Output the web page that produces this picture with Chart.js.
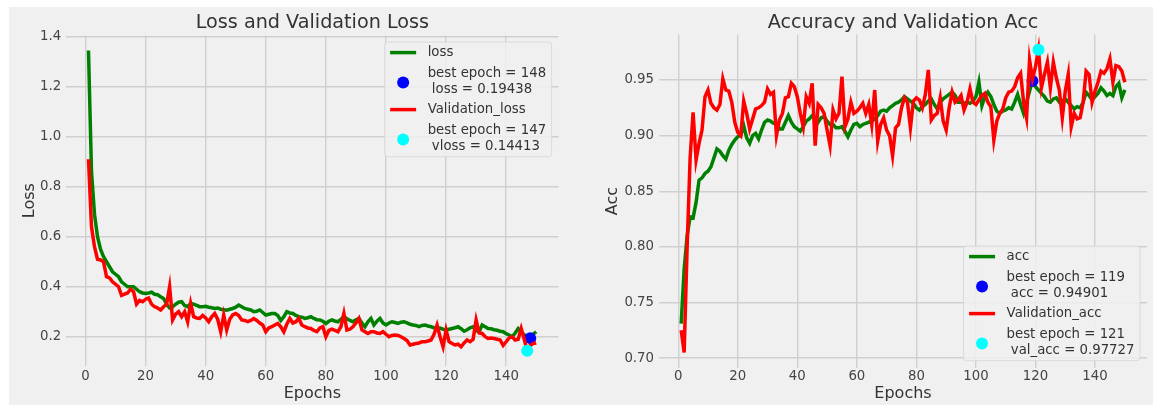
<!DOCTYPE html>
<html>
<head>
<meta charset="utf-8">
<title>Loss / Accuracy</title>
<script src="https://cdn.jsdelivr.net/npm/chart.js@4/dist/chart.umd.min.js"></script>
<style>
  html, body { margin: 0; padding: 0; background: #fff; }
  body { width: 1153px; height: 407px; position: relative; overflow: hidden; }
  #fig { position: absolute; left: 9px; top: 7px; right: 0; bottom: 2px; background: #f0f0f0; }
  canvas { position: absolute; top: 0; }
  #cLoss { left: 0; }
  #cAcc { left: 590px; }
</style>
</head>
<body>
<div id="fig"></div>
<canvas id="cLoss" width="590" height="407"></canvas>
<canvas id="cAcc" width="563" height="407"></canvas>
<script>
// training history, one value per epoch (1..150)
const loss = [
  1.345, 0.86, 0.69, 0.60, 0.55, 0.52, 0.50, 0.48, 0.46, 0.45,
  0.44, 0.42, 0.41, 0.40, 0.40, 0.40, 0.39, 0.38, 0.375, 0.373,
  0.375, 0.378, 0.37, 0.368, 0.36, 0.353, 0.33, 0.315, 0.32, 0.33,
  0.338, 0.34, 0.325, 0.32, 0.333, 0.33, 0.325, 0.32, 0.32, 0.322,
  0.318, 0.316, 0.313, 0.315, 0.31, 0.308, 0.306, 0.31, 0.313, 0.318,
  0.327, 0.32, 0.313, 0.31, 0.307, 0.30, 0.302, 0.307, 0.297, 0.287,
  0.29, 0.293, 0.293, 0.285, 0.265, 0.28, 0.30, 0.295, 0.293, 0.285,
  0.28, 0.278, 0.273, 0.276, 0.28, 0.273, 0.268, 0.267, 0.262, 0.253,
  0.262, 0.267, 0.263, 0.26, 0.27, 0.28, 0.272, 0.265, 0.26, 0.268,
  0.273, 0.255, 0.24, 0.26, 0.273, 0.247, 0.262, 0.273, 0.255, 0.247,
  0.255, 0.26, 0.257, 0.253, 0.258, 0.26, 0.255, 0.25, 0.247, 0.245,
  0.24, 0.245, 0.247, 0.243, 0.24, 0.236, 0.233, 0.235, 0.23, 0.227,
  0.23, 0.233, 0.236, 0.24, 0.232, 0.222, 0.228, 0.236, 0.24, 0.225,
  0.22, 0.247, 0.24, 0.233, 0.232, 0.228, 0.226, 0.222, 0.22, 0.212,
  0.207, 0.20, 0.215, 0.233, 0.22, 0.207, 0.202, 0.19438, 0.21, 0.22,
];
const valLoss = [
  0.91, 0.64, 0.56, 0.51, 0.507, 0.50, 0.44, 0.435, 0.42, 0.41,
  0.40, 0.365, 0.37, 0.375, 0.39, 0.38, 0.33, 0.345, 0.34, 0.35,
  0.355, 0.33, 0.32, 0.315, 0.307, 0.32, 0.33, 0.40, 0.267, 0.29,
  0.30, 0.28, 0.30, 0.26, 0.333, 0.28, 0.275, 0.273, 0.285, 0.275,
  0.26, 0.28, 0.293, 0.27, 0.22, 0.287, 0.227, 0.27, 0.287, 0.293,
  0.285, 0.267, 0.265, 0.26, 0.265, 0.273, 0.265, 0.255, 0.247, 0.22,
  0.235, 0.24, 0.247, 0.253, 0.24, 0.22, 0.25, 0.273, 0.255, 0.26,
  0.273, 0.247, 0.24, 0.235, 0.233, 0.225, 0.22, 0.235, 0.24, 0.20,
  0.225, 0.23, 0.225, 0.22, 0.24, 0.293, 0.227, 0.23, 0.24, 0.255,
  0.273, 0.227, 0.22, 0.213, 0.22, 0.22, 0.215, 0.213, 0.22, 0.21,
  0.20, 0.205, 0.207, 0.205, 0.20, 0.193, 0.185, 0.167, 0.17, 0.173,
  0.175, 0.18, 0.18, 0.183, 0.187, 0.21, 0.247, 0.20, 0.16, 0.227,
  0.18, 0.173, 0.167, 0.17, 0.16, 0.175, 0.187, 0.18, 0.19, 0.267,
  0.215, 0.213, 0.20, 0.193, 0.195, 0.193, 0.19, 0.187, 0.165, 0.18,
  0.195, 0.20, 0.187, 0.19, 0.233, 0.19, 0.14413, 0.165, 0.173, 0.175,
];
const acc = [
  0.731, 0.78, 0.81, 0.827, 0.826, 0.84, 0.86, 0.862, 0.866, 0.868,
  0.872, 0.88, 0.888, 0.886, 0.882, 0.879, 0.887, 0.892, 0.896, 0.899,
  0.90, 0.909, 0.898, 0.893, 0.90, 0.902, 0.897, 0.905, 0.912, 0.914,
  0.913, 0.911, 0.911, 0.906, 0.906, 0.912, 0.918, 0.912, 0.908, 0.906,
  0.904, 0.908, 0.913, 0.915, 0.918, 0.915, 0.912, 0.916, 0.917, 0.913,
  0.91, 0.91, 0.907, 0.907, 0.908, 0.904, 0.899, 0.905, 0.91, 0.911,
  0.908, 0.91, 0.911, 0.912, 0.913, 0.915, 0.918, 0.922, 0.923, 0.922,
  0.925, 0.927, 0.929, 0.930, 0.932, 0.935, 0.933, 0.931, 0.929, 0.925,
  0.923, 0.926, 0.928, 0.931, 0.933, 0.928, 0.924, 0.93, 0.933, 0.935,
  0.937, 0.939, 0.936, 0.930, 0.93, 0.929, 0.93, 0.929, 0.931, 0.935,
  0.948, 0.927, 0.935, 0.939, 0.935, 0.928, 0.922, 0.92, 0.922, 0.923,
  0.925, 0.924, 0.93, 0.937, 0.928, 0.92, 0.93, 0.94, 0.94901, 0.944,
  0.941, 0.938, 0.935, 0.931, 0.93, 0.933, 0.934, 0.93, 0.931, 0.933,
  0.93, 0.927, 0.924, 0.926, 0.925, 0.93, 0.939, 0.936, 0.932, 0.935,
  0.938, 0.943, 0.94, 0.936, 0.938, 0.936, 0.944, 0.947, 0.934, 0.941,
];
const valAcc = [
  0.725, 0.705, 0.80, 0.88, 0.921, 0.878, 0.893, 0.905, 0.935, 0.941,
  0.929, 0.925, 0.923, 0.928, 0.951, 0.941, 0.94, 0.93, 0.912, 0.903,
  0.90, 0.931, 0.92, 0.906, 0.915, 0.924, 0.925, 0.927, 0.93, 0.942,
  0.937, 0.939, 0.90, 0.914, 0.92, 0.934, 0.935, 0.947, 0.944, 0.935,
  0.92, 0.908, 0.935, 0.929, 0.947, 0.891, 0.928, 0.925, 0.92, 0.905,
  0.891, 0.923, 0.915, 0.92, 0.953, 0.908, 0.915, 0.93, 0.92, 0.922,
  0.925, 0.929, 0.92, 0.928, 0.91, 0.941, 0.895, 0.91, 0.916, 0.905,
  0.90, 0.882, 0.907, 0.91, 0.925, 0.934, 0.93, 0.907, 0.931, 0.934,
  0.932, 0.925, 0.937, 0.959, 0.914, 0.918, 0.92, 0.934, 0.913, 0.905,
  0.925, 0.939, 0.93, 0.932, 0.936, 0.923, 0.93, 0.942, 0.93, 0.928,
  0.932, 0.936, 0.938, 0.93, 0.926, 0.896, 0.913, 0.92, 0.924, 0.934,
  0.939, 0.94, 0.944, 0.952, 0.956, 0.93, 0.916, 0.968, 0.951, 0.962,
  0.97727, 0.943, 0.955, 0.966, 0.943, 0.966, 0.952, 0.941, 0.916, 0.94,
  0.955, 0.908, 0.92, 0.915, 0.916, 0.93, 0.958, 0.955, 0.93, 0.94,
  0.948, 0.958, 0.956, 0.96, 0.969, 0.948, 0.963, 0.962, 0.958, 0.948,
];

const bestLossEpoch = 148, bestLoss = 0.19438;
const bestVlossEpoch = 147, bestVloss = 0.14413;
const bestAccEpoch = 119, bestAcc = 0.94901;
const bestVaccEpoch = 121, bestVacc = 0.97727;

const epochTicks = [0, 20, 40, 60, 80, 100, 120, 140];
const lossTicks = [0.2, 0.4, 0.6, 0.8, 1.0, 1.2, 1.4];
const accTicks = [0.70, 0.75, 0.80, 0.85, 0.90, 0.95];

const FONT = '"DejaVu Sans", sans-serif';
const TEXT = '#333333';
const GRID = '#cfcfcf';
const LW = 3.5;

const pts = (vals) => vals.map((v, i) => ({x: i + 1, y: v}));

// matplotlib-style 5 % margins
function padRange(lo, hi) {
  const m = (hi - lo) * 0.05;
  return {min: lo - m, max: hi + m};
}
const xRange = padRange(1, loss.length);

const lineDs = (label, vals, color, order) => ({
  label, data: pts(vals), borderColor: color, backgroundColor: color,
  borderWidth: LW, pointRadius: 0, tension: 0, order,
});
const dotDs = (label, x, y, color, order) => ({
  label, data: [{x, y}], showLine: false, borderColor: color, backgroundColor: color,
  pointRadius: 6, pointBorderWidth: 0, order,
});

// ---------- plugins ----------

const titlePlugin = {
  id: 'figTitle',
  afterDraw(chart, args, o) {
    const {ctx, chartArea: a} = chart;
    ctx.save();
    ctx.font = `19.2px ${FONT}`;
    ctx.fillStyle = TEXT;
    ctx.textAlign = 'center';
    ctx.textBaseline = 'middle';
    ctx.fillText(o.text, (a.left + a.right) / 2, o.y);
    ctx.restore();
  },
};

// legend drawn like matplotlib: line handles, dot handles, multi-line labels
const legendPlugin = {
  id: 'mplLegend',
  afterDraw(chart, args, o) {
    const {ctx, chartArea: a} = chart;
    const lineH = 16, pad = 2.6, gap = 4.5;
    ctx.save();
    ctx.font = `13.3px ${FONT}`;
    const items = chart.data.datasets.map((ds) => ({ds, lines: ds.label.split('\n')}));
    const textW = Math.max(...items.flatMap((it) => it.lines.map((l) => ctx.measureText(l).width)));
    const w = 43 + textW + 5.5;
    const h = pad * 2 + items.reduce((s, it) => s + it.lines.length * lineH, 0) + gap * (items.length - 1);
    const x0 = a.right - 7 - w;
    const y0 = o.loc === 'upper right' ? a.top + 6.5 : a.bottom - 7 - h;

    ctx.beginPath();
    ctx.roundRect(x0, y0, w, h, 3);
    ctx.fillStyle = 'rgba(240,240,240,0.85)';
    ctx.fill();
    ctx.lineWidth = 0.8;
    ctx.strokeStyle = '#d4d4d4';
    ctx.stroke();

    let y = y0 + pad;
    items.forEach(({ds, lines}) => {
      const bh = lines.length * lineH;
      const cy = y + bh / 2;
      if (ds.showLine === false) {
        ctx.beginPath();
        ctx.arc(x0 + 18.5, cy + 1.5, 6, 0, Math.PI * 2);
        ctx.fillStyle = ds.backgroundColor;
        ctx.fill();
      } else {
        ctx.beginPath();
        ctx.moveTo(x0 + 5.5, cy);
        ctx.lineTo(x0 + 31.5, cy);
        ctx.lineWidth = LW;
        ctx.strokeStyle = ds.borderColor;
        ctx.stroke();
      }
      ctx.fillStyle = TEXT;
      ctx.textAlign = 'left';
      ctx.textBaseline = 'middle';
      lines.forEach((l, i) => ctx.fillText(l, x0 + 43, y + lineH * i + lineH / 2));
      y += bh + gap;
    });
    ctx.restore();
  },
};

// ---------- charts ----------

function makeChart(canvas, cfg) {
  return new Chart(canvas, {
    type: 'line',
    data: {datasets: cfg.datasets},
    plugins: [titlePlugin, legendPlugin],
    options: {
      responsive: false,
      animation: false,
      events: [],
      layout: {padding: cfg.padding},
      plugins: {
        legend: {display: false},
        title: {display: false},
        tooltip: {enabled: false},
        figTitle: {text: cfg.title, y: 22.7},
        mplLegend: {loc: cfg.legendLoc},
      },
      scales: {
        x: {
          type: 'linear', min: xRange.min, max: xRange.max,
          afterBuildTicks: (s) => { s.ticks = epochTicks.map((v) => ({value: v})); },
          afterFit: (s) => { s.height = cfg.xHeight; },
          grid: {color: GRID, lineWidth: 1.4, drawTicks: false},
          border: {display: false},
          ticks: {
            autoSkip: false, maxRotation: 0, padding: cfg.xTickPad, color: '#444',
            font: {family: FONT, size: 13.3}, callback: (v) => String(v),
          },
          title: {
            display: true, text: 'Epochs', color: TEXT,
            font: {family: FONT, size: 16}, padding: {top: 0, bottom: cfg.xTitlePad},
          },
        },
        y: {
          type: 'linear', min: cfg.yRange.min, max: cfg.yRange.max,
          afterBuildTicks: (s) => { s.ticks = cfg.yTicks.map((v) => ({value: v})); },
          afterFit: (s) => { s.width = cfg.yWidth; },
          grid: {color: GRID, lineWidth: 1.4, drawTicks: false},
          border: {display: false},
          ticks: {
            padding: 5, color: '#444',
            font: {family: FONT, size: 13.3}, callback: (v) => v.toFixed(cfg.yDigits),
          },
          title: {
            display: true, text: cfg.yLabel, color: TEXT,
            font: {family: FONT, size: 16}, padding: {top: cfg.yTitlePad, bottom: 0},
          },
        },
      },
    },
  });
}

makeChart(document.getElementById('cLoss'), {
  title: 'Loss and Validation Loss',
  yLabel: 'Loss',
  yTicks: lossTicks,
  yDigits: 1,
  yRange: padRange(Math.min(...loss, ...valLoss), Math.max(...loss, ...valLoss)),
  legendLoc: 'upper right',
  padding: {left: 9, right: 31.4, top: 35.5, bottom: 2},
  yWidth: 57.1, yTitlePad: 11.2,
  xHeight: 39.3, xTickPad: 3, xTitlePad: 1.1,
  datasets: [
    lineDs('loss', loss, '#008000', 4),
    dotDs(`best epoch = ${bestLossEpoch}\n loss = ${bestLoss}`, bestLossEpoch, bestLoss, '#0000ff', 3),
    lineDs('Validation_loss', valLoss, '#ff0000', 2),
    dotDs(`best epoch = ${bestVlossEpoch}\n vloss = ${bestVloss}`, bestVlossEpoch, bestVloss, '#00ffff', 1),
  ],
});

makeChart(document.getElementById('cAcc'), {
  title: 'Accuracy and Validation Acc',
  yLabel: 'Acc',
  yTicks: accTicks,
  yDigits: 2,
  yRange: padRange(Math.min(...acc, ...valAcc), Math.max(...acc, ...valAcc)),
  legendLoc: 'lower right',
  padding: {left: 10, right: 0, top: 34.5, bottom: 2},
  yWidth: 59, yTitlePad: 3,
  xHeight: 37.3, xTickPad: 1, xTitlePad: 1.4,
  datasets: [
    lineDs('acc', acc, '#008000', 4),
    dotDs(`best epoch = ${bestAccEpoch}\n acc = ${bestAcc}`, bestAccEpoch, bestAcc, '#0000ff', 3),
    lineDs('Validation_acc', valAcc, '#ff0000', 2),
    dotDs(`best epoch = ${bestVaccEpoch}\n val_acc = ${bestVacc}`, bestVaccEpoch, bestVacc, '#00ffff', 1),
  ],
});
</script>
</body>
</html>
